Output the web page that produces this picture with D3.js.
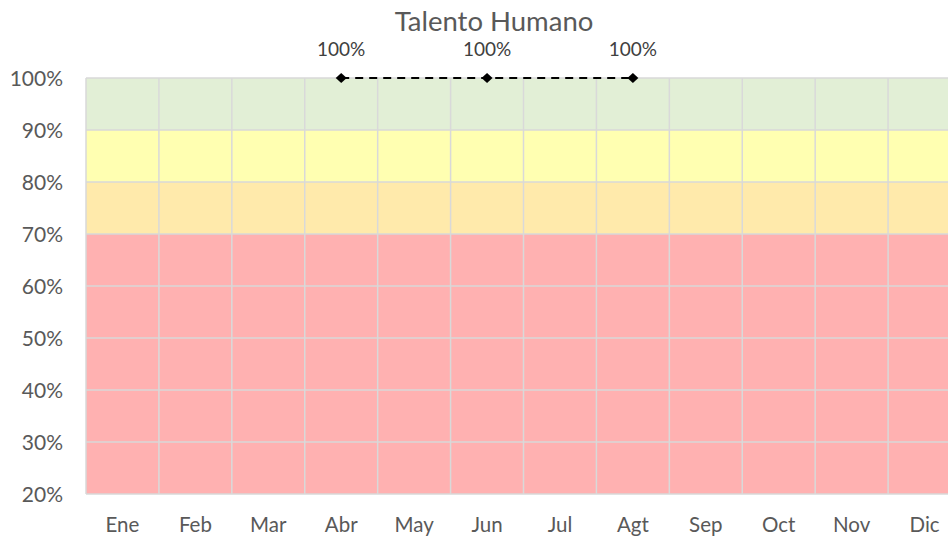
<!DOCTYPE html>
<html><head><meta charset="utf-8">
<script src="https://cdn.jsdelivr.net/npm/d3@7"></script>
<style>html,body{margin:0;padding:0;background:#fff;overflow:hidden}</style>
</head><body>
<svg id="c" width="948" height="538"></svg>
<script>
const categories = ["Ene","Feb","Mar","Abr","May","Jun","Jul","Agt","Sep","Oct","Nov","Dic"];
const seriesValues = [null,null,null,100,null,100,null,100,null,null,null,null];
const yTicks = [20,30,40,50,60,70,80,90,100];
const bandLow = [20,70,80,90];
const bandHigh = [70,80,90,100];
const bandColors = ["#ffb1b1","#ffeaab","#ffffb1","#e2efd6"];
const title = "Talento Humano";

const FONT = "Lato, 'Open Sans', sans-serif";
const svg = d3.select("#c");
const pLeft = 86, pRight = 961, pTop = 78, pBottom = 494;
const x = d3.scaleBand().domain(categories).range([pLeft, pRight]).padding(0);
const y = d3.scaleLinear().domain([20,100]).range([pBottom, pTop]);

// bands
categories.forEach(c => {
  bandLow.forEach((lo,i) => {
    svg.append("rect").attr("x", x(c)).attr("width", x.bandwidth())
      .attr("y", y(bandHigh[i])).attr("height", y(lo) - y(bandHigh[i]))
      .attr("fill", bandColors[i]);
  });
});

// gridlines
const g = svg.append("g");
yTicks.forEach(t => {
  g.append("line").attr("x1", pLeft).attr("x2", pRight).attr("y1", y(t)).attr("y2", y(t))
    .attr("stroke", "#d9d9d9").attr("stroke-width", 1.5);
});
categories.forEach(c => {
  g.append("line").attr("x1", x(c)).attr("x2", x(c)).attr("y1", pTop).attr("y2", pBottom)
    .attr("stroke", "#d9d9d9").attr("stroke-width", 1.5);
});

// y axis labels
const yAxis = d3.axisLeft(y).tickValues(yTicks).tickFormat(d => d + "%").tickSize(0).tickPadding(23);
const ya = svg.append("g").attr("transform", `translate(${pLeft},0)`).call(yAxis);
ya.select(".domain").remove();
ya.selectAll("text").attr("font-family", FONT).attr("font-size", 21).attr("fill", "#595959").attr("dy", "0.35em");

// x axis labels
const xAxis = d3.axisBottom(x).tickSize(0).tickPadding(23);
const xa = svg.append("g").attr("transform", `translate(0,${pBottom})`).call(xAxis);
xa.select(".domain").remove();
xa.selectAll("text").attr("font-family", FONT).attr("font-size", 20.5).attr("fill", "#595959");

// title
svg.append("text").attr("x", 494).attr("y", 31).attr("text-anchor", "middle")
  .attr("font-family", FONT).attr("font-size", 27.5).attr("fill", "#595959").text(title);

// series
const pts = categories.map((c,i) => ({c, v: seriesValues[i]})).filter(d => d.v !== null);
const line = d3.line().x(d => x(d.c) + x.bandwidth()/2).y(d => y(d.v));
svg.append("path").datum(pts).attr("d", line).attr("fill", "none")
  .attr("stroke", "#000").attr("stroke-width", 2).attr("stroke-dasharray", "8,6");
svg.selectAll(".mk").data(pts).enter().append("path")
  .attr("transform", d => `translate(${x(d.c) + x.bandwidth()/2},${y(d.v)})`)
  .attr("d", "M0,-5L5.5,0L0,5L-5.5,0Z").attr("fill", "#000");
svg.selectAll(".lb").data(pts).enter().append("text")
  .attr("x", d => x(d.c) + x.bandwidth()/2).attr("y", d => y(d.v) - 22)
  .attr("text-anchor", "middle").attr("font-family", FONT).attr("font-size", 19)
  .attr("fill", "#404040").text(d => d.v + "%");
</script>
</body></html>
